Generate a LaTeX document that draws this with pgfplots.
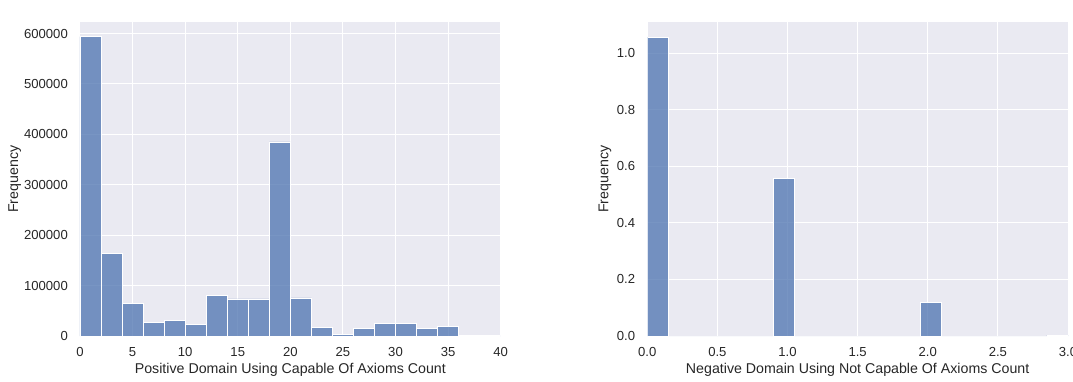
\documentclass[border=0pt]{standalone}
\usepackage{fontspec}
\setmainfont{Liberation Sans}
\usepackage{pgfplots}
\pgfplotsset{compat=1.18}
\definecolor{sbbg}{HTML}{EAEAF2}
\definecolor{sbblue}{HTML}{4C72B0}
\definecolor{sbtext}{HTML}{262626}
\pgfplotsset{
  sbstyle/.style={
    scale only axis,
    width=420.7pt, height=313.7pt,
    anchor=south west,
    axis background/.style={fill=sbbg},
    axis line style={draw=none},
    tick style={draw=none},
    grid=major,
    major grid style={white, line width=1pt},
    tick label style={font=\fontsize{13.1}{15}\selectfont},
    label style={font=\fontsize{14.2}{16}\selectfont, text=sbtext},
    every tick label/.append style={text=sbtext},
    /pgf/number format/assume math mode=true,
    xticklabel style={anchor=base, yshift=-20.9pt},
    yticklabel style={anchor=east, inner sep=0pt, xshift=-12pt},
    ymin=0,
  },
  sbbar/.style={ybar interval, fill=sbblue, fill opacity=0.75, draw=white, line width=0.9pt},
}
\begin{document}
\begin{tikzpicture}
\useasboundingbox (0,0) rectangle (1073pt,381pt);
\begin{axis}[sbstyle,
  at={(80pt,45pt)},
  xmin=0, xmax=40, ymax=622400,
  xtick={0,5,...,40},
  ytick={0,100000,200000,300000,400000,500000,600000},
  scaled y ticks=false,
  yticklabel style={/pgf/number format/.cd, fixed, 1000 sep={}},
  xlabel={Positive Domain Using Capable Of Axioms Count},
  ylabel={Frequency},
  xlabel style={at={(axis description cs:0.5,-0.121)}, anchor=base},
  ylabel style={at={(axis description cs:-0.155,0.5)}, anchor=center, rotate=0},
]
\addplot[sbbar] coordinates {
(0,594000) (2,163000) (4,65000) (6,26500) (8,31000) (10,22500)
(12,80000) (14,73500) (16,73500) (18,385000) (20,75500) (22,17500)
(24,2500) (26,14000) (28,24500) (30,24500) (32,14000) (34,18000)
(36,1000) (38,500) (40,0)
};
\end{axis}
\begin{axis}[sbstyle,
  at={(647.3pt,45pt)},
  xmin=0, xmax=3, ymax=1.1097,
  xtick={0,0.5,...,3},
  ytick={0,0.2,...,1.0},
  xticklabel style={/pgf/number format/.cd, fixed, fixed zerofill, precision=1},
  yticklabel style={/pgf/number format/.cd, fixed, fixed zerofill, precision=1},
  xlabel={Negative Domain Using Not Capable Of Axioms Count},
  ylabel={Frequency},
  xlabel style={at={(axis description cs:0.5,-0.121)}, anchor=base},
  ylabel style={at={(axis description cs:-0.1005,0.5)}, anchor=center, rotate=0},
]
\addplot[sbbar] coordinates {
(0,1.057) (0.15,0) (0.3,0) (0.45,0) (0.6,0) (0.75,0)
(0.9,0.558) (1.05,0) (1.2,0) (1.35,0) (1.5,0) (1.65,0) (1.8,0)
(1.95,0.118) (2.1,0) (2.25,0) (2.4,0) (2.55,0) (2.7,0)
(2.85,0.003) (3.0,0)
};
\node[anchor=base west, text=sbtext, inner sep=0pt, font=\fontsize{13.1}{15}\selectfont] at ([yshift=5pt]rel axis cs:0,1) {1e6};
\end{axis}
\end{tikzpicture}
\end{document}
